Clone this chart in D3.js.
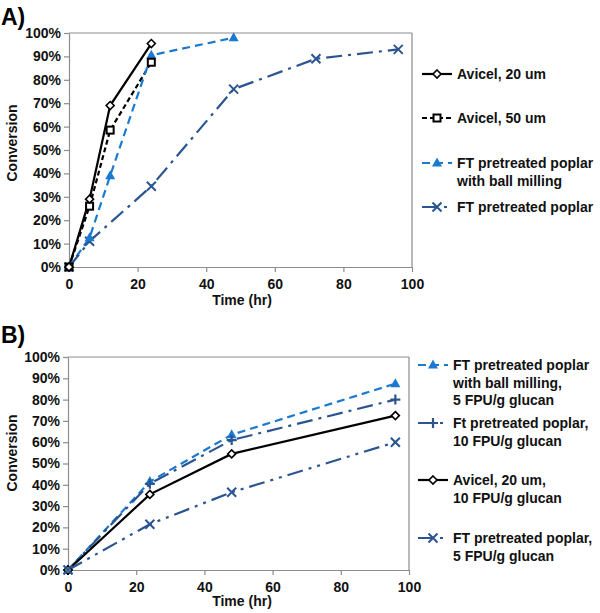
<!DOCTYPE html>
<html><head><meta charset="utf-8">
<script src="https://cdn.jsdelivr.net/npm/d3@7"></script>
<style>body{margin:0;background:#fff}svg{display:block;font-family:"Liberation Sans",Arial,sans-serif;font-weight:bold}</style>
</head><body><svg id="c" width="600" height="613"></svg>
<script>
// Panel A data
const timeA = {
  avicel20: [0, 6, 12, 24],
  avicel50: [0, 6, 12, 24],
  ftBall: [0, 6, 12, 24, 48],
  ft: [0, 6, 24, 48, 72, 96]
};
const avicel20A = [0, 29, 69, 95.5];
const avicel50A = [0, 26, 58.5, 87.5];
const ftBallA = [0, 12.5, 39, 90.5, 98];
const ftA = [0, 11, 34.5, 76, 89, 93];
const legendA = ["Avicel, 20 um", "Avicel, 50 um", ["FT pretreated poplar", "with ball milling"], "FT pretreated poplar"];

// Panel B data
const timeB = [0, 24, 48, 96];
const ftBall5B = [0, 41.5, 63.5, 87.5];
const ft10B = [0, 40.5, 61, 80];
const avicel10B = [0, 35.5, 54.5, 72.5];
const ft5B = [0, 21.5, 36.5, 60];
const legendB = [["FT pretreated poplar", "with ball milling,", "5 FPU/g glucan"], ["Ft pretreated poplar,", "10 FPU/g glucan"], ["Avicel, 20 um,", "10 FPU/g glucan"], ["FT pretreated poplar,", "5 FPU/g glucan"]];

const xTicks = [0, 20, 40, 60, 80, 100];
const yTicks = [0, 10, 20, 30, 40, 50, 60, 70, 80, 90, 100];

const LB = "#1a7ad0", DB = "#2a5590", BK = "#000";
const FS = 14;
const svg = d3.select("#c");

function marker(g, type, x, y, color) {
  if (type === "diamond") {
    g.append("path").attr("d", `M${x},${y-4}L${x+4},${y}L${x},${y+4}L${x-4},${y}Z`).attr("fill", "#fff").attr("stroke", color).attr("stroke-width", 1.6);
  } else if (type === "square") {
    g.append("rect").attr("x", x-3.5).attr("y", y-3.5).attr("width", 7).attr("height", 7).attr("fill", "#fff").attr("stroke", color).attr("stroke-width", 2);
  } else if (type === "triangle") {
    g.append("path").attr("d", `M${x},${y-5.5}L${x+5},${y+3.5}L${x-5},${y+3.5}Z`).attr("fill", color);
  } else if (type === "x") {
    g.append("path").attr("d", `M${x-4.5},${y-4.5}L${x+4.5},${y+4.5}M${x-4.5},${y+4.5}L${x+4.5},${y-4.5}`).attr("stroke", color).attr("stroke-width", 2);
  } else if (type === "plus") {
    g.append("path").attr("d", `M${x-5},${y}L${x+5},${y}M${x},${y-5}L${x},${y+5}`).attr("stroke", color).attr("stroke-width", 2.2);
  }
}

function panel(cfg) {
  const g = svg.append("g");
  const x = d3.scaleLinear().domain([0, 100]).range([cfg.x0, cfg.x1]);
  const y = d3.scaleLinear().domain([0, 100]).range([cfg.y0, cfg.y1]);
  const xa = g.append("g").attr("transform", `translate(0,${cfg.y0})`)
    .call(d3.axisBottom(x).tickValues(xTicks).tickSize(5).tickSizeOuter(0).tickPadding(7));
  const ya = g.append("g").attr("transform", `translate(${cfg.x0},0)`)
    .call(d3.axisLeft(y).tickValues(yTicks).tickSize(5).tickSizeOuter(0).tickPadding(3).tickFormat(d => d + "%"));
  [xa, ya].forEach(a => {
    a.select(".domain").attr("stroke", "#8c8c8c").attr("stroke-width", 1.2);
    a.selectAll(".tick line").attr("stroke", "#8c8c8c").attr("stroke-width", 1.2);
    a.selectAll("text").attr("font-size", FS).attr("font-weight", "bold").attr("fill", "#111").attr("font-family", '"Liberation Sans",Arial,sans-serif');
  });
  g.append("line").attr("x1", cfg.x1).attr("x2", cfg.x1).attr("y1", cfg.y1).attr("y2", cfg.y0).attr("stroke", "#8c8c8c").attr("stroke-width", 1.2);
  g.append("line").attr("x1", cfg.x0).attr("x2", cfg.x1).attr("y1", cfg.y1).attr("y2", cfg.y1).attr("stroke", "#8c8c8c").attr("stroke-width", 1.2);
  g.append("text").attr("x", 242).attr("y", cfg.y0 + cfg.titleDy).attr("text-anchor", "middle").attr("font-size", FS).attr("fill", "#111").text("Time (hr)");
  g.append("text").attr("transform", `translate(17,${cfg.convY}) rotate(-90)`).attr("text-anchor", "middle").attr("font-size", FS).attr("fill", "#111").text("Conversion");
  g.append("text").attr("x", 1).attr("y", cfg.labelY).attr("font-size", 23).text(cfg.label);
  const line = d3.line().x(d => x(d[0])).y(d => y(d[1]));
  cfg.series.forEach(s => {
    const pts = s.t.map((t, i) => [t, s.v[i]]);
    g.append("path").attr("d", line(pts)).attr("fill", "none").attr("stroke", s.color).attr("stroke-width", 2.2).attr("stroke-dasharray", s.dash);
  });
  (cfg.markerOrder || cfg.series.map((_, i) => i)).forEach(k => {
    const s = cfg.series[k];
    s.t.forEach((t, i) => marker(g, s.mark, x(t), y(s.v[i]), s.color));
  });
  cfg.series.forEach((ss, k) => {
    const ly = cfg.legY[k];
    g.append("line").attr("x1", cfg.legX).attr("x2", cfg.legX + 30).attr("y1", ly).attr("y2", ly).attr("stroke", ss.color).attr("stroke-width", 2.2).attr("stroke-dasharray", ss.legDash || ss.dash);
    marker(g, ss.mark, cfg.legX + 15, ly, ss.color);
    const lab = Array.isArray(ss.name) ? ss.name : [ss.name];
    lab.forEach((l, j) => g.append("text").attr("x", cfg.legX + 35).attr("y", ly + 5 + j * 17.5).attr("font-size", FS).attr("fill", "#111").text(l));
  });
}

panel({
  x0: 69, x1: 412, y0: 267, y1: 33, label: "A)", labelY: 25, titleDy: 38, convY: 143,
  legX: 422, legY: [74, 118, 163, 207], markerOrder: [3, 2, 1, 0],
  series: [
    {t: timeA.avicel20, v: avicel20A, color: BK, dash: null, mark: "diamond", name: legendA[0]},
    {t: timeA.avicel50, v: avicel50A, color: BK, dash: "5,3", mark: "square", name: legendA[1]},
    {t: timeA.ftBall, v: ftBallA, color: LB, dash: "8,5", mark: "triangle", name: legendA[2]},
    {t: timeA.ft, v: ftA, color: DB, dash: "16,6,3,6", mark: "x", name: legendA[3]}
  ]
});

panel({
  x0: 68, x1: 409, y0: 570, y1: 357, label: "B)", labelY: 343, titleDy: 36, convY: 453,
  legX: 418, legY: [365, 423, 480, 538],
  series: [
    {t: timeB, v: ftBall5B, color: LB, dash: "8,5", mark: "triangle", name: legendB[0]},
    {t: timeB, v: ft10B, color: DB, dash: "16,6,3,6", mark: "plus", name: legendB[1]},
    {t: timeB, v: avicel10B, color: BK, dash: null, mark: "diamond", name: legendB[2]},
    {t: timeB, v: ft5B, color: DB, dash: "16,6,3,6,3,6", mark: "x", name: legendB[3]}
  ]
});
</script></body></html>
